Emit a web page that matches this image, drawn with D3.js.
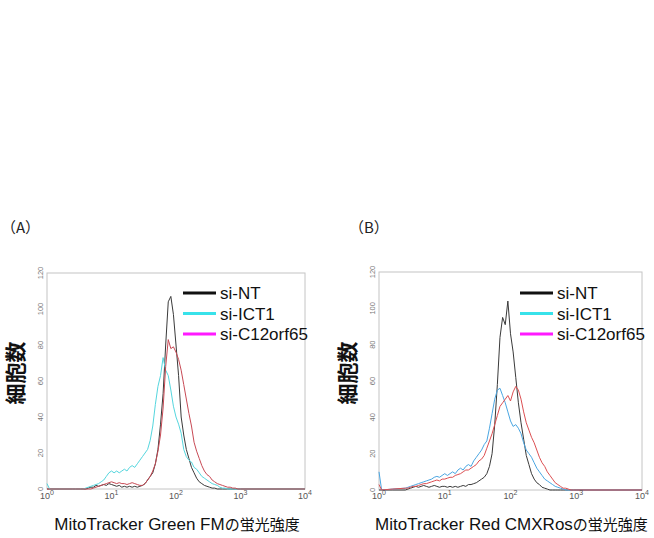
<!DOCTYPE html>
<html lang="ja">
<head>
  <title>MitoTracker histograms</title>
  <meta charset="UTF-8">
  <!--Import d3-->
  <script src="https://d3js.org/d3.v7.min.js"></script>
</head>
<style>
  body{
    margin:0;
    background:white;
    font-family: "Liberation Sans", Arial, "Noto Sans CJK JP", sans-serif;
  }
</style>
<body>
  <div id="svg_area"></div>
</body>
<script>
// channel positions, in hundredths of a decade (0 = 10^0, 400 = 10^4)
var channels = [0, 4, 20,
  40,44,48,52,56,60,64,68,72,76,
  80,84,88,92,96,100,104,108,112,116,
  120,124,128,132,136,140,144,148,152,156,
  160,164,168,172,176,180,184,188,192,196,
  200,204,208,212,216,220,224,228,232,236,
  240,244,248,252,256,260,264,268,272,276,
  280,284,288,292,296,300,
  400];

// (A) MitoTracker Green FM
var ntA = [0,0,0,
  0,0,0,0,0,0,0.5,1,1,2,
  1.5,2,2.5,2,3,2.5,2,1.5,2,1,
  1.5,1,1.5,1,1.5,1,1.5,2,3,5,
  7,9,14,22,36,53,80,104,107,97,
  80,63,40,30,22,17,12,9,6,4,
  3,2,1.5,1,0.5,0.5,0,0,0,0,
  0,0,0,0,0,0,
  0];
var ict1A = [3,0,0,
  0,0,0,0,0,0.5,1,1.5,2,2.5,
  3,4,5,7,9,10,9,10,9,10,
  11,10,12,13,12,14,16,18,20,22,
  27,35,47,57,63,73,66,63,55,46,
  40,36,31,22,18,16,15,12,11,9,
  7,6,5,4,3,2.5,2,1,0.5,0.5,
  0,0,0,0,0,0,
  0];
var c12A = [0,0,0,
  0,0,0,0,0,0,0,0,0.5,1,
  1.5,2,2.5,3,3.5,4,3.5,3,3.5,3,
  3,2.5,3,3.5,3,2.5,2,2,3,5,
  7,10,14,21,30,45,68,83,78,79,
  76,72,66,58,50,42,35,26,21,17,
  13,10,8,7,5,4,3,2.5,2,1.5,
  1,1,0.5,0.5,0,0,
  0];

// (B) MitoTracker Red CMXRos
var ntB = [0,0,0,
  0,0.5,1,1.5,2,1.5,2,2.5,2,1.5,
  2,2.5,2,1.5,2,2,1.5,2,1.5,2,
  1.5,2,2.5,2,3,3,3.5,4,5,6,
  7,9,13,20,36,58,84,95,91,104,
  86,76,62,48,37,28,19,14,9,6,
  4,3,1.5,1,0.5,0,0,0,0,0,
  0,0,0,0,0,0,
  0];
var ict1B = [10,0,0.5,
  1,1.5,2,2.5,3,3.5,4,4.5,5,5.5,
  6,7,7.5,7,8,9,8,9,10,9,
  11,12,11,13,14,13,16,18,20,22,
  25,27,34,42,50,55,56,52,48,43,
  38,35,36,34,31,26,22,20,18,15,
  12,10,8,6,5,4,3,2,1.5,1,
  0.5,0,0,0,0,0,
  0];
var c12B = [3,0,0.5,
  1,1,1.5,2,2,2.5,3,3.5,3.5,4,
  4.5,5,5.5,5,6,6,6.5,7,7,8,
  8.5,9,10,11,11,12,13,14,16,17,
  19,23,27,31,36,41,46,48,50,52,
  49,54,57,55,50,43,37,33,29,26,
  22,18,15,13,10,8,6,4,3,2,
  1,1,0.5,0,0,0,
  0];

var legendLabels = ["si-NT", "si-ICT1", "si-C12orf65"];
var legendColours = ["#111111", "#38e2ea", "#ff1aff"];
var xTickPowers = [0, 1, 2, 3, 4];
var yTicks = [0, 20, 40, 60, 80, 100, 120];

var panels = [
  {tag:"（A）", tagX:1, xTitle:"MitoTracker Green FM", xTitleJa:"の蛍光強度",
   left:47, right:305, top:273, bottom:489,
   series:[ntA, ict1A, c12A], colours:["#3a3a3a", "#55d6de", "#c84a55"]},
  {tag:"（B）", tagX:349, xTitle:"MitoTracker Red CMXRos", xTitleJa:"の蛍光強度",
   left:379, right:642, top:272, bottom:490,
   series:[ntB, ict1B, c12B], colours:["#3a3a3a", "#4aa6e2", "#dc4f52"]}
];

var svg = d3.select("#svg_area").append("svg")
  .attr("width", 654)
  .attr("height", 538);

panels.forEach(function(p){
  var xScale = d3.scaleLog()
    .domain([1, 10000])
    .range([p.left, p.right]);
  var yScale = d3.scaleLinear()
    .domain([0, 120])
    .range([p.bottom, p.top]);

  // panel tag
  svg.append("text")
    .attr("x", p.tagX)
    .attr("y", 233)
    .attr("font-family", "Noto Sans CJK JP")
    .attr("font-size", 15)
    .attr("fill", "#222")
    .text(p.tag);

  // frame
  svg.append("rect")
    .attr("x", p.left)
    .attr("y", p.top)
    .attr("width", p.right - p.left)
    .attr("height", p.bottom - p.top)
    .attr("fill", "none")
    .attr("stroke", "#c4c4c4")
    .attr("stroke-width", 1);

  // histogram lines
  var line = d3.line()
    .x(function(d){ return xScale(Math.pow(10, d[0] / 100)); })
    .y(function(d){ return yScale(d[1]); });

  p.series.forEach(function(s, i){
    svg.append("path")
      .datum(channels.map(function(c, j){ return [c, s[j]]; }))
      .attr("d", line)
      .attr("fill", "none")
      .attr("stroke", p.colours[i])
      .attr("stroke-width", 1)
      .attr("stroke-linejoin", "round");
  });

  // y tick labels (rotated)
  yTicks.forEach(function(t){
    svg.append("text")
      .attr("transform", "translate(" + (p.left - 4) + "," + yScale(t) + ") rotate(-90)")
      .attr("text-anchor", "middle")
      .attr("font-size", 7.5)
      .attr("fill", "#777")
      .text(t);
  });

  // x tick labels 10^n
  xTickPowers.forEach(function(n){
    var lab = svg.append("text")
      .attr("x", xScale(Math.pow(10, n)))
      .attr("y", 499)
      .attr("text-anchor", "middle")
      .attr("font-size", 9)
      .attr("fill", "#555");
    lab.append("tspan").text("10");
    lab.append("tspan")
      .attr("dy", -4)
      .attr("font-size", 7)
      .text(n);
  });

  // y axis title
  svg.append("text")
    .attr("transform", "translate(" + (p.left - 24) + "," + ((p.top + p.bottom) / 2 - 8) + ") rotate(-90)")
    .attr("text-anchor", "middle")
    .attr("font-family", "Noto Sans CJK JP")
    .attr("font-size", 21)
    .attr("font-weight", 700)
    .attr("fill", "#111")
    .text("細胞数");

  // x axis title
  var xt = svg.append("text")
    .attr("x", (p.left + p.right) / 2 + 1)
    .attr("y", 530)
    .attr("text-anchor", "middle")
    .attr("font-family", "Liberation Sans")
    .attr("font-size", 17)
    .attr("fill", "#111");
  xt.append("tspan").text(p.xTitle);
  xt.append("tspan")
    .attr("font-family", "Noto Sans CJK JP")
    .attr("font-size", 15)
    .text(p.xTitleJa);

  // legend
  legendLabels.forEach(function(lbl, i){
    var ly = 293 + i * 20.5;
    svg.append("line")
      .attr("x1", p.right - 122)
      .attr("x2", p.right - 89)
      .attr("y1", ly)
      .attr("y2", ly)
      .attr("stroke", legendColours[i])
      .attr("stroke-width", 3);
    svg.append("text")
      .attr("x", p.right - 85)
      .attr("y", ly + 6)
      .attr("font-size", 17)
      .attr("fill", "#111")
      .text(lbl);
  });
});
</script>
</html>
